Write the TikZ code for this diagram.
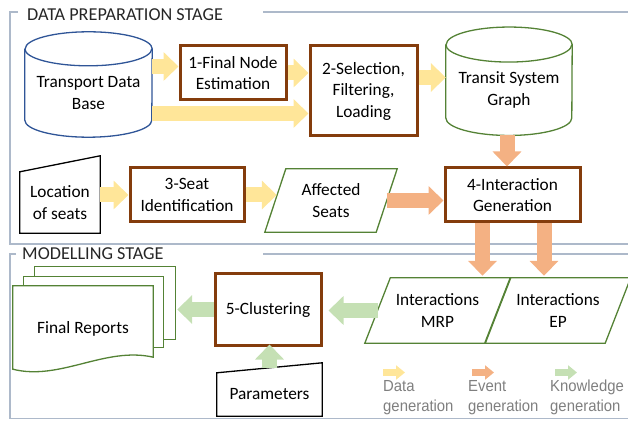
\documentclass[tikz,border=0pt]{standalone}
\usepackage{fontspec}
\setmainfont{Carlito}
\newfontfamily\legfont[FakeStretch=0.93]{Liberation Sans}
\usetikzlibrary{arrows.meta}

\definecolor{boxbrown}{HTML}{843C0C}
\definecolor{docgreen}{HTML}{548235}
\definecolor{dbblue}{HTML}{2F5597}
\definecolor{datayel}{HTML}{FFE699}
\definecolor{evtorange}{HTML}{F4B183}
\definecolor{knowgreen}{HTML}{C5E0B4}
\definecolor{framegray}{HTML}{ADB9CA}
\definecolor{leggray}{HTML}{7F7F7F}

\begin{document}
\begin{tikzpicture}[x=1pt, y=1pt,
    every node/.style={font=\fontsize{17.3}{21.5}\selectfont, align=center, inner sep=0pt},
    procbox/.style={draw=boxbrown, line width=3pt, minimum width=#1},
    greenline/.style={draw=docgreen, line width=1.3pt},
    frame/.style={draw=framegray, line width=1.3pt},
    fat/.style={line width=15pt, -{Triangle[length=15pt, width=28pt]}},
    small/.style={line width=7pt, -{Triangle[length=9pt, width=14pt]}},
    stage/.style={anchor=base west, text=black!85, font=\fontsize{18.2}{21}\selectfont},
    legend/.style={anchor=north west, align=left, text=leggray, font=\legfont\fontsize{16}{20}\selectfont}]
    \useasboundingbox (0,0) rectangle (628,420);

    % Stage frames
    \node[stage] (prep) at (27,399) {DATA PREPARATION STAGE};
    \node[stage] (model) at (22,160) {MODELLING STAGE};
    \draw[frame] (18,408) -- (10,408) -- (10,176) -- (630,176);
    \draw[frame] (263,408) -- (630,408);
    \draw[frame] (16,166) -- (10,166) -- (10,1.5) -- (630,1.5);
    \draw[frame] (263,166) -- (630,166);

    % Define nodes
    \node (tdb) at (88.5,327) [minimum width=127pt, minimum height=88pt] {Transport Data\\Base};
    \node (fne) at (233,347) [procbox=106pt, minimum height=54pt] {1-Final Node\\Estimation};
    \node (sfl) at (363.5,329) [procbox=107pt, minimum height=90pt] {2-Selection,\\Filtering,\\Loading};
    \node (tsg) at (509,330) [minimum width=126pt, minimum height=90.5pt] {Transit System\\Graph};
    \node (loc) at (60,217.5) [minimum width=80pt, minimum height=61pt] {Location\\of seats};
    \node (sid) at (187,225) [procbox=114pt, minimum height=54pt] {3-Seat\\Identification};
    \node (aff) at (331,219.5) [minimum width=132pt, minimum height=63pt] {Affected\\Seats};
    \node (igen) at (512.5,225) [procbox=135pt, minimum height=54pt] {4-Interaction\\Generation};
    \node (frep) at (83,91) [minimum width=140pt, minimum height=86pt] {Final Reports};
    \node (clus) at (268,110.5) [procbox=106pt, minimum height=71pt] {5-Clustering};
    \node (mrp) at (437.5,109.5) [minimum width=145pt, minimum height=65pt] {Interactions\\MRP};
    \node (ep) at (558,109.5) [minimum width=145pt, minimum height=65pt] {Interactions\\EP};
    \node (par) at (269.5,25.5) [minimum width=105pt, minimum height=43pt] {Parameters};

    % Cylinders
    \draw[dbblue, line width=1.3pt] (tdb.north west) -- ([yshift=17pt]tdb.south west)
        arc[start angle=180, end angle=360, x radius=63.5pt, y radius=17pt]
        -- (tdb.north east) arc[start angle=0, end angle=180, x radius=63.5pt, y radius=17pt];
    \draw[dbblue, line width=1.3pt] (tdb.north west)
        arc[start angle=180, end angle=360, x radius=63.5pt, y radius=17pt];
    \draw[docgreen, line width=1.3pt] (tsg.north west) -- ([yshift=17.5pt]tsg.south west)
        arc[start angle=180, end angle=360, x radius=63pt, y radius=17.5pt]
        -- (tsg.north east) arc[start angle=0, end angle=180, x radius=63pt, y radius=17.5pt];
    \draw[docgreen, line width=1.3pt] (tsg.north west)
        arc[start angle=180, end angle=360, x radius=63pt, y radius=17.5pt];

    % Parallelograms
    \draw[greenline] (aff.south west) -- ([xshift=21pt]aff.north west)
        -- (aff.north east) -- ([xshift=-21pt]aff.south east) -- cycle;
    \draw[greenline] (mrp.south west) -- ([xshift=25.5pt]mrp.north west)
        -- (mrp.north east) -- ([xshift=-25.5pt]mrp.south east) -- cycle;
    \draw[greenline] (ep.south west) -- ([xshift=25.5pt]ep.north west)
        -- (ep.north east) -- ([xshift=-25.5pt]ep.south east) -- cycle;

    % Manual inputs
    \draw[line width=1.3pt] (loc.south west) -- (loc.north west)
        -- ([yshift=16pt]loc.north east) -- (loc.south east) -- cycle;
    \draw[line width=1.3pt] (par.south west) -- (par.north west)
        -- ([yshift=10pt]par.north east) -- (par.south east) -- cycle;

    % Report stack
    \draw[greenline, fill=white] ([shift={(22pt,19pt)}]frep.north west)
        rectangle ([shift={(22pt,33pt)}]frep.south east);
    \draw[greenline, fill=white] ([shift={(11pt,9pt)}]frep.north west)
        rectangle ([shift={(10pt,25pt)}]frep.south east);
    \draw[greenline, fill=white] (frep.north west) -- (frep.north east)
        -- ([yshift=15pt]frep.south east)
        .. controls +(-48,11) and +(47,-12) .. ([yshift=3pt]frep.south west) -- cycle;
    \node at (frep) {Final Reports};

    % Draw arrows
    \draw[fat, datayel] ([yshift=6.5pt]tdb.east |- fne.west) -- ([yshift=6.5pt]fne.west); % data base -> 1
    \draw[fat, datayel] (fne.east) -- (fne.east -| sfl.west); % 1 -> 2
    \draw[fat, datayel] ([yshift=-20.5pt]tdb.east) -- ([yshift=-20.5pt]tdb.east -| sfl.west); % data base -> 2
    \draw[fat, datayel] ([yshift=13.5pt]sfl.east) -- ([yshift=13.5pt]sfl.east -| tsg.west); % 2 -> graph
    \draw[fat, datayel] (loc.east |- sid.west) -- (sid.west); % seats -> 3
    \draw[fat, datayel] (sid.east) -- ([xshift=12pt]sid.east -| aff.west); % 3 -> affected
    \draw[fat, evtorange] ([xshift=-10.5pt]aff.east) -- (aff.east -| igen.west); % affected -> 4
    \draw[fat, evtorange] ([xshift=-2pt]tsg.south) -- ([xshift=-2pt]tsg.south |- igen.north); % graph -> 4
    \draw[fat, evtorange, shorten >=2pt] ([xshift=-30pt]igen.south) -- ([xshift=-30pt]igen.south |- mrp.north); % 4 -> MRP
    \draw[fat, evtorange, shorten >=2pt] ([xshift=31.5pt]igen.south) -- ([xshift=31.5pt]igen.south |- ep.north); % 4 -> EP
    \draw[fat, knowgreen, shorten >=6pt] ([xshift=12.75pt]mrp.west) -- (mrp.west -| clus.east); % MRP -> 5
    \draw[fat, knowgreen] (clus.west) -- ([xshift=24pt]frep.east |- clus.west); % 5 -> reports
    \draw[fat, knowgreen, shorten >=3pt] ([yshift=5pt]par.north) -- ([yshift=5pt]par.north |- clus.south); % parameters -> 5

    % Legend
    \node[legend] (ldata) at (383,40) {Data\\generation};
    \node[legend] (levent) at (468,40) {Event\\generation};
    \node[legend] (lknow) at (550,40) {Knowledge\\generation};
    \draw[small, datayel] ([xshift=0pt,yshift=7.5pt]ldata.north west) -- ++(22,0);
    \draw[small, evtorange] ([xshift=4pt,yshift=7.5pt]levent.north west) -- ++(22,0);
    \draw[small, knowgreen] ([xshift=5pt,yshift=7.5pt]lknow.north west) -- ++(22,0);
\end{tikzpicture}
\end{document}
